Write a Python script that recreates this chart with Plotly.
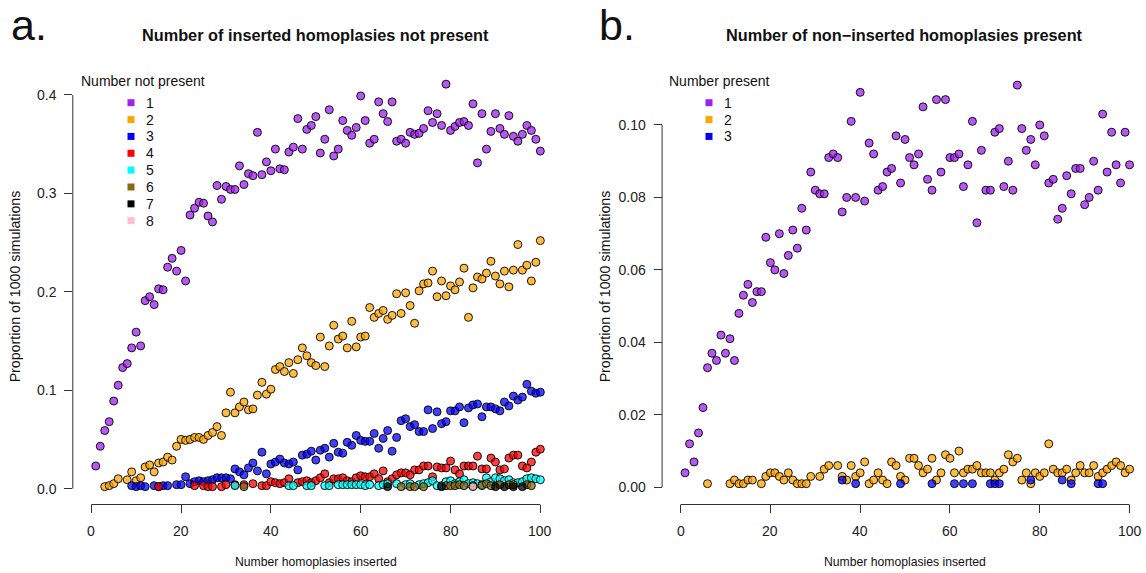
import plotly.graph_objects as go

# ---------------- data ----------------
# Panel a: number of inserted homoplasies not present
a1_x = list(range(1, 101))
a1_y = [0.023, 0.043, 0.059, 0.068, 0.089, 0.105, 0.123, 0.127, 0.143, 0.159,
        0.145, 0.191, 0.195, 0.187, 0.203, 0.202, 0.225, 0.234, 0.221, 0.242,
        0.211, 0.278, 0.285, 0.291, 0.290, 0.277, 0.271, 0.308, 0.294, 0.307,
        0.304, 0.304, 0.328, 0.309, 0.320, 0.318, 0.362, 0.319, 0.332, 0.323,
        0.345, 0.325, 0.324, 0.342, 0.347, 0.376, 0.345, 0.365, 0.369, 0.378,
        0.341, 0.355, 0.385, 0.338, 0.345, 0.374, 0.364, 0.359, 0.367, 0.399,
        0.374, 0.351, 0.355, 0.393, 0.381, 0.373, 0.393, 0.353, 0.355, 0.351,
        0.362, 0.360, 0.361, 0.366, 0.384, 0.372, 0.381, 0.369, 0.411, 0.364,
        0.368, 0.372, 0.373, 0.369, 0.391, 0.331, 0.381, 0.345, 0.363, 0.381,
        0.366, 0.360, 0.379, 0.358, 0.353, 0.360, 0.369, 0.364, 0.355, 0.343]

a2_x = [3, 4, 5, 6] + list(range(8, 101))
a2_y = [0.002, 0.003, 0.005, 0.010, 0.009, 0.017, 0.008, 0.011, 0.022, 0.024,
        0.017, 0.026, 0.027, 0.032, 0.029, 0.043, 0.050, 0.049, 0.050, 0.052,
        0.052, 0.050, 0.054, 0.057, 0.063, 0.054, 0.077, 0.098, 0.077, 0.083,
        0.088, 0.080, 0.081, 0.095, 0.108, 0.096, 0.101, 0.121, 0.124, 0.119,
        0.128, 0.117, 0.131, 0.143, 0.135, 0.128, 0.125, 0.154, 0.124, 0.145,
        0.166, 0.152, 0.155, 0.143, 0.170, 0.144, 0.154, 0.155, 0.184, 0.174,
        0.178, 0.181, 0.172, 0.176, 0.198, 0.178, 0.199, 0.186, 0.168, 0.201,
        0.208, 0.209, 0.221, 0.195, 0.211, 0.196, 0.206, 0.202, 0.210, 0.224,
        0.174, 0.204, 0.215, 0.213, 0.219, 0.231, 0.216, 0.208, 0.221, 0.205,
        0.222, 0.248, 0.222, 0.227, 0.211, 0.230, 0.252]

a3_x = [9, 10, 11, 12, 14, 15, 16, 17] + list(range(19, 101))
a3_y = [0.003, 0.002, 0.003, 0.002, 0.003, 0.002, 0.003, 0.003,
        0.004, 0.004, 0.012, 0.005, 0.007, 0.008, 0.007, 0.008, 0.009, 0.011,
        0.011, 0.011, 0.010, 0.020, 0.017, 0.014, 0.021, 0.026, 0.018, 0.037,
        0.015, 0.025, 0.027, 0.030, 0.026, 0.025, 0.027, 0.019, 0.034, 0.035,
        0.038, 0.029, 0.039, 0.041, 0.032, 0.046, 0.037, 0.036, 0.047, 0.044,
        0.054, 0.049, 0.048, 0.048, 0.056, 0.041, 0.051, 0.059, 0.038, 0.052,
        0.069, 0.071, 0.063, 0.065, 0.058, 0.058, 0.080, 0.061, 0.078, 0.066,
        0.068, 0.079, 0.079, 0.083, 0.067, 0.082, 0.085, 0.086, 0.073, 0.083,
        0.083, 0.081, 0.079, 0.088, 0.084, 0.094, 0.090, 0.093, 0.106, 0.099,
        0.097, 0.098]

a4_x = [15, 23, 25, 26, 27, 29, 30, 32, 34, 36, 38, 39, 40, 41, 42, 43, 44] + list(range(46, 101))
a4_y = [0.002, 0.003, 0.003, 0.002, 0.002, 0.002, 0.004, 0.004, 0.004, 0.005,
        0.003, 0.003, 0.007, 0.006, 0.005, 0.006, 0.010,
        0.006, 0.007, 0.008, 0.006, 0.008, 0.011, 0.015, 0.006, 0.010, 0.010,
        0.011, 0.008, 0.007, 0.011, 0.013, 0.012, 0.012, 0.015, 0.010, 0.018,
        0.007, 0.010, 0.014, 0.016, 0.016, 0.014, 0.019, 0.019, 0.023, 0.023,
        0.012, 0.022, 0.021, 0.021, 0.028, 0.019, 0.015, 0.023, 0.023, 0.023,
        0.033, 0.020, 0.020, 0.031, 0.027, 0.019, 0.020, 0.031, 0.034, 0.034,
        0.023, 0.021, 0.027, 0.037, 0.040]

a5_x = [32, 44, 45, 48, 49, 52, 53, 55, 56, 57, 58, 59, 60, 61, 62, 64, 65, 66,
        68, 70, 71, 73, 74, 75, 76, 77, 78, 79, 80, 81, 82, 83, 84, 85, 86, 87,
        88, 89, 90, 91, 92, 93, 94, 95, 96, 97, 98, 99, 100]
a5_y = [0.003, 0.003, 0.003, 0.003, 0.003, 0.003, 0.003, 0.004, 0.004, 0.004,
        0.004, 0.004, 0.004, 0.003, 0.004, 0.003, 0.004, 0.005, 0.005, 0.004,
        0.005, 0.004, 0.005, 0.006, 0.008, 0.003, 0.003, 0.007, 0.008, 0.005,
        0.007, 0.009, 0.005, 0.006, 0.005, 0.004, 0.011, 0.007, 0.011, 0.010,
        0.008, 0.009, 0.006, 0.006, 0.007, 0.010, 0.011, 0.010, 0.009]

a6_x = [34, 69, 71, 72, 74, 79, 80, 81, 82, 83, 85, 87, 88, 89, 91, 93, 94, 97, 98]
a6_y = [0.002, 0.002, 0.002, 0.002, 0.002, 0.003, 0.003, 0.003, 0.004, 0.003,
        0.003, 0.003, 0.005, 0.003, 0.004, 0.004, 0.004, 0.004, 0.003]

a7_x = [66, 78, 90, 92, 94, 96]
a7_y = [0.002, 0.002, 0.002, 0.002, 0.002, 0.002]

a8_x = [85]
a8_y = [0.002]

# Panel b: number of non-inserted homoplasies present
b1_x = list(range(1, 101))
b1_y = [0.004, 0.012, 0.007, 0.015, 0.022, 0.033, 0.037, 0.035, 0.042, 0.037,
        0.041, 0.035, 0.048, 0.053, 0.056, 0.051, 0.054, 0.054, 0.069, 0.062,
        0.060, 0.070, 0.059, 0.064, 0.071, 0.066, 0.077, 0.071, 0.087, 0.082,
        0.081, 0.081, 0.091, 0.092, 0.091, 0.076, 0.080, 0.101, 0.080, 0.109,
        0.079, 0.095, 0.092, 0.082, 0.083, 0.087, 0.088, 0.097, 0.084, 0.096,
        0.091, 0.089, 0.092, 0.105, 0.085, 0.082, 0.107, 0.087, 0.107, 0.091,
        0.091, 0.092, 0.083, 0.089, 0.101, 0.073, 0.093, 0.082, 0.082, 0.098,
        0.099, 0.083, 0.090, 0.082, 0.111, 0.099, 0.093, 0.096, 0.089, 0.100,
        0.097, 0.084, 0.085, 0.074, 0.077, 0.086, 0.081, 0.088, 0.088, 0.078,
        0.080, 0.090, 0.082, 0.103, 0.087, 0.098, 0.089, 0.084, 0.098, 0.089]

b2_x = [6, 11, 12, 13, 14, 15, 16, 18, 19, 20, 21, 22, 23, 24, 25, 26, 27, 28,
        29, 31, 32, 33, 35, 36, 37, 38, 39, 40, 41, 42, 43, 44, 45, 46, 47, 48,
        49] + list(range(50, 101))
b2_y = [0.001, 0.001, 0.002, 0.001, 0.001, 0.002, 0.002, 0.001, 0.003, 0.004,
        0.004, 0.003, 0.002, 0.004, 0.002, 0.001, 0.001, 0.001, 0.003, 0.003,
        0.005, 0.006, 0.006, 0.003, 0.002, 0.006, 0.003, 0.004, 0.007, 0.001,
        0.002, 0.004, 0.002, 0.001, 0.007, 0.006, 0.003,
        0.002, 0.008, 0.008, 0.006, 0.004, 0.005, 0.008, 0.002, 0.004, 0.009,
        0.008, 0.004, 0.010, 0.004, 0.005, 0.005, 0.006, 0.004, 0.004, 0.004,
        0.002, 0.004, 0.005, 0.009, 0.007, 0.008, 0.002, 0.004, 0.001, 0.004,
        0.003, 0.004, 0.012, 0.005, 0.004, 0.004, 0.005, 0.002, 0.004, 0.006,
        0.004, 0.004, 0.006, 0.003, 0.004, 0.005, 0.006, 0.007, 0.006, 0.004,
        0.005]

b3_x = [36, 39, 49, 56, 61, 63, 65, 69, 70, 71, 78, 85, 87, 93, 94]
b3_y = [0.002, 0.001, 0.001, 0.001, 0.001, 0.001, 0.001, 0.001, 0.001, 0.001,
        0.002, 0.002, 0.001, 0.001, 0.001]

a_labels = ["1", "2", "3", "4", "5", "6", "7", "8"]
b_labels = ["1", "2", "3"]
series_colors = ["#A020F0", "#FFA500", "#0000FF", "#FF0000",
                 "#00FFFF", "#8B6914", "#000000", "#FFC0CB"]

x_ticks = [0, 20, 40, 60, 80, 100]
ya_ticks = [0.0, 0.1, 0.2, 0.3, 0.4]
ya_text = ["0.0", "0.1", "0.2", "0.3", "0.4"]
yb_ticks = [0.00, 0.02, 0.04, 0.06, 0.08, 0.10]
yb_text = ["0.00", "0.02", "0.04", "0.06", "0.08", "0.10"]

# ---------------- layout helpers ----------------
W, H = 1146, 573
FONT = "Liberation Sans, Arial, Helvetica, sans-serif"


def px(x):
    return x / W


def py(y):
    return 1 - y / H


def rgba(hexcol, a):
    h = hexcol.lstrip("#")
    r, g, b = int(h[0:2], 16), int(h[2:4], 16), int(h[4:6], 16)
    return f"rgba({r},{g},{b},{a})"


ALPHA = 0.75

fig = go.Figure()

a_series = [(a1_x, a1_y), (a2_x, a2_y), (a3_x, a3_y), (a4_x, a4_y),
            (a5_x, a5_y), (a6_x, a6_y), (a7_x, a7_y), (a8_x, a8_y)]
b_series = [(b1_x, b1_y), (b2_x, b2_y), (b3_x, b3_y)]

for i, (xs, ys) in enumerate(a_series):
    fig.add_trace(go.Scatter(
        x=xs, y=ys, mode="markers", xaxis="x", yaxis="y", showlegend=False,
        name=a_labels[i], cliponaxis=False,
        marker=dict(size=8, color=rgba(series_colors[i], ALPHA),
                    line=dict(color="rgba(0,0,0,0.9)", width=1))))

for i, (xs, ys) in enumerate(b_series):
    fig.add_trace(go.Scatter(
        x=xs, y=ys, mode="markers", xaxis="x2", yaxis="y2", showlegend=False,
        name=b_labels[i], cliponaxis=False,
        marker=dict(size=8, color=rgba(series_colors[i], ALPHA),
                    line=dict(color="rgba(0,0,0,0.9)", width=1))))

# plot regions (pixels) and data ranges
A_L, A_R = 73.3, 558.3
B_L, B_R = 662.6, 1146.0
TOP, BOT = 68.7, 504.0
XA_RANGE = [-4, 104]
XB_RANGE = [-4, 103.66]
YA_RANGE = [-0.01565, 0.4267]
YB_RANGE = [-0.00461, 0.11553]


def x_pix(v, lo, hi, rng):
    return lo + (v - rng[0]) / (rng[1] - rng[0]) * (hi - lo)


def y_pix(v, rng):
    return BOT - (v - rng[0]) / (rng[1] - rng[0]) * (BOT - TOP)


axis_common = dict(showgrid=False, zeroline=False, showline=False,
                   ticks="outside", ticklen=8, tickwidth=1, tickcolor="#333",
                   tickfont=dict(family=FONT, size=14, color="#222"))

fig.update_layout(
    width=W, height=H,
    margin=dict(l=0, r=0, t=0, b=0),
    paper_bgcolor="white", plot_bgcolor="white",
    xaxis=dict(domain=[px(A_L), px(A_R)], range=XA_RANGE, anchor="y",
               tickvals=x_ticks, showticklabels=False, **axis_common),
    yaxis=dict(domain=[py(BOT), py(TOP)], range=YA_RANGE, anchor="x",
               tickvals=ya_ticks, ticktext=ya_text, ticklabelstandoff=5,
               **axis_common),
    xaxis2=dict(domain=[px(B_L), px(B_R)], range=XB_RANGE, anchor="y2",
                tickvals=x_ticks, showticklabels=False, **axis_common),
    yaxis2=dict(domain=[py(BOT), py(TOP)], range=YB_RANGE, anchor="x2",
                tickvals=yb_ticks, ticktext=yb_text, ticklabelstandoff=5,
                **axis_common),
)

shapes = []
annotations = []
# R-style axis lines spanning first to last tick (paper-referenced so not clipped)
for xr, lo, hi, xrng, yrng, yt in (("x", A_L, A_R, XA_RANGE, YA_RANGE, ya_ticks),
                                   ("x2", B_L, B_R, XB_RANGE, YB_RANGE, yb_ticks)):
    x0p = x_pix(min(x_ticks), lo, hi, xrng)
    x1p = x_pix(max(x_ticks), lo, hi, xrng)
    shapes.append(dict(type="line", xref="paper", yref="paper", layer="above",
                       x0=px(x0p), x1=px(x1p), y0=py(BOT + 0.5), y1=py(BOT + 0.5),
                       line=dict(color="#333", width=1)))
    shapes.append(dict(type="line", xref="paper", yref="paper", layer="above",
                       x0=px(lo - 0.5), x1=px(lo - 0.5),
                       y0=py(y_pix(min(yt), yrng)), y1=py(y_pix(max(yt), yrng)),
                       line=dict(color="#333", width=1)))
    for t in x_ticks:
        annotations.append(dict(text=str(t), x=t, y=py(531), xref=xr, yref="paper",
                                xanchor="center", yanchor="middle", showarrow=False,
                                font=dict(family=FONT, size=14, color="#222")))

# legends
LEG_ROW0, LEG_DY = 102.7, 16.86
for labels, title, title_x, sq_x, lab_x in (
        (a_labels, "Number not present", 78.7, 131.0, 144.3),
        (b_labels, "Number present", 667.3, 709.0, 722.0)):
    annotations.append(dict(text=title, x=px(title_x), y=py(81), xref="paper", yref="paper",
                            xanchor="left", yanchor="middle", showarrow=False,
                            font=dict(family=FONT, size=14, color="#111")))
    for i, lab in enumerate(labels):
        cy = LEG_ROW0 + i * LEG_DY
        shapes.append(dict(type="rect", xref="paper", yref="paper",
                           xsizemode="pixel", ysizemode="pixel",
                           xanchor=px(sq_x), yanchor=py(cy),
                           x0=-3.5, x1=3.5, y0=-3.5, y1=3.5,
                           fillcolor=series_colors[i], line=dict(width=0)))
        annotations.append(dict(text=lab, x=px(lab_x), y=py(cy), xref="paper", yref="paper",
                                xanchor="left", yanchor="middle", showarrow=False,
                                font=dict(family=FONT, size=14, color="#111")))

# titles, panel letters, axis titles
for (l, r), title, letter, letter_x, ytitle_x in (
        ((A_L, A_R), "Number of inserted homoplasies not present", "a.", 9, 15),
        ((B_L, 1147.0), "Number of non\u2212inserted homoplasies present", "b.", 597, 605)):
    cx = (l + r) / 2
    annotations.append(dict(text=f"<b>{title}</b>", x=px(cx), y=py(35), xref="paper", yref="paper",
                            xanchor="center", yanchor="middle", showarrow=False,
                            font=dict(family=FONT, size=16.3, color="#111")))
    annotations.append(dict(text=letter, x=px(letter_x), y=py(25), xref="paper", yref="paper",
                            xanchor="left", yanchor="middle", showarrow=False,
                            font=dict(family=FONT, size=43, color="#111")))
    annotations.append(dict(text="Number homoplasies inserted", x=px(cx), y=py(562),
                            xref="paper", yref="paper", xanchor="center", yanchor="middle",
                            showarrow=False, font=dict(family=FONT, size=12.2, color="#111")))
    annotations.append(dict(text="Proportion of 1000 simulations", x=px(ytitle_x), y=py((TOP + BOT) / 2),
                            xref="paper", yref="paper", xanchor="center", yanchor="middle",
                            textangle=-90, showarrow=False,
                            font=dict(family=FONT, size=14.2, color="#111")))

fig.update_layout(shapes=shapes, annotations=annotations)

fig.write_html("out.html")
